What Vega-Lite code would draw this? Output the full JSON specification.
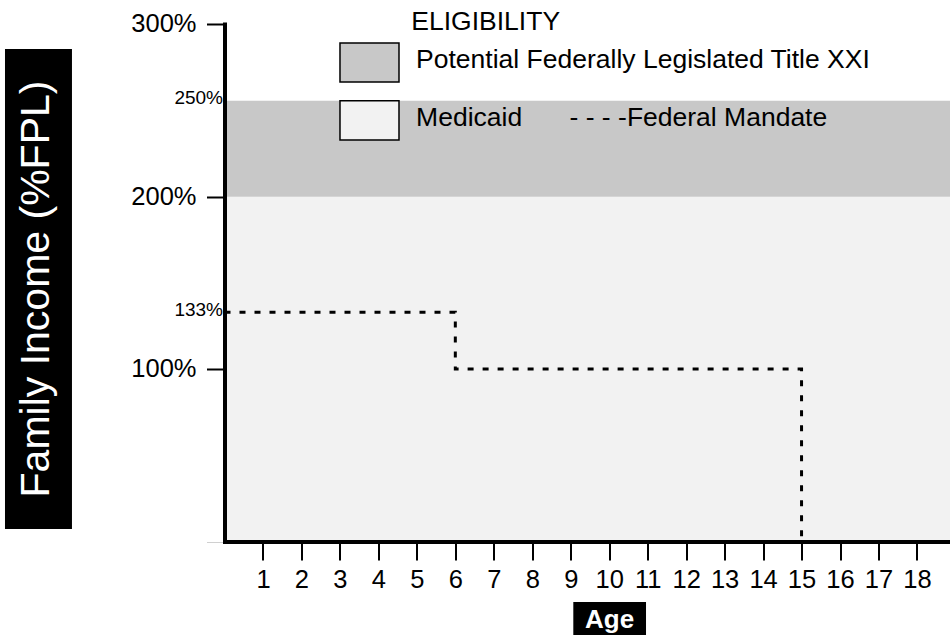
{
  "$schema": "https://vega.github.io/schema/vega-lite/v6.json",
  "width": 725.5,
  "height": 517.5,
  "autosize": {"type": "none"},
  "padding": {"left": 224.5, "top": 24, "right": 0, "bottom": 93.5},
  "background": "white",
  "config": {"view": {"stroke": null}, "font": "Liberation Sans"},
  "datasets": {
    "bands": [
      {"program": "Medicaid", "age_start": 0, "age_end": 19, "fpl_low": 0, "fpl_high": 200},
      {"program": "Potential Federally Legislated Title XXI", "age_start": 0, "age_end": 19, "fpl_low": 200, "fpl_high": 250}
    ],
    "mandate": [
      {"age": 0, "fpl": 133},
      {"age": 6, "fpl": 100},
      {"age": 15, "fpl": 0}
    ]
  },
  "layer": [
    {
      "data": {"name": "bands"},
      "mark": {"type": "rect"},
      "encoding": {
        "x": {
          "field": "age_start", "type": "quantitative", "title": null,
          "scale": {"domain": [0, 18.859], "nice": false, "zero": false},
          "axis": {
            "values": [1,2,3,4,5,6,7,8,9,10,11,12,13,14,15,16,17,18],
            "format": "d",
            "tickSize": 18.5, "tickWidth": 2, "tickColor": "black",
            "domainColor": "black", "domainWidth": 4, "domainCap": "square",
            "labelFontSize": 25.5, "labelColor": "black", "labelPadding": 7.5,
            "labelFlush": false, "labelOverlap": false, "grid": false, "zindex": 1, "title": null
          }
        },
        "x2": {"field": "age_end"},
        "y": {
          "field": "fpl_low", "type": "quantitative", "title": null,
          "scale": {"domain": [0, 200, 250, 300], "range": [517.5, 172.7, 76.7, 0], "nice": false, "zero": false},
          "axis": {
            "values": [0, 100, 133, 200, 250, 300],
            "labelExpr": "datum.value == 0 ? '' : datum.value + '%'",
            "tickSize": 18,
            "tickWidth": {"condition": {"test": "datum.value == 0", "value": 1}, "value": 2},
            "tickColor": {"condition": {"test": "datum.value == 0", "value": "#d0d0d0"}, "value": "black"},
            "tickOpacity": {"condition": {"test": "datum.value == 133 || datum.value == 250", "value": 0}, "value": 1},
            "labelFontSize": {"condition": {"test": "datum.value == 133 || datum.value == 250", "value": 19}, "value": 25.5},
            "labelPadding": {"condition": {"test": "datum.value == 133 || datum.value == 250", "value": -16}, "value": 10.5},
            "labelOffset": {"condition": {"test": "datum.value == 133 || datum.value == 250", "value": -3}, "value": -0.5},
            "domainColor": "black", "domainWidth": 4, "domainCap": "square",
            "labelColor": "black", "labelOverlap": false, "labelFlush": false, "grid": false, "zindex": 1, "title": null
          }
        },
        "y2": {"field": "fpl_high"},
        "color": {
          "field": "program", "type": "nominal", "legend": null,
          "scale": {"domain": ["Potential Federally Legislated Title XXI", "Medicaid"], "range": ["#c8c8c8", "#f2f2f2"]}
        }
      }
    },
    {
      "data": {"name": "mandate"},
      "mark": {"type": "line", "interpolate": "step-after", "strokeDash": [6, 9], "strokeWidth": 3, "color": "black"},
      "encoding": {
        "x": {"field": "age", "type": "quantitative", "title": null},
        "y": {"field": "fpl", "type": "quantitative", "title": null},
        "order": {"field": "age"}
      }
    },
    {
      "data": {"values": [{"item": "y title box"}]},
      "mark": {"type": "rect", "color": "black"},
      "encoding": {
        "x": {"datum": -5.706, "type": "quantitative", "title": null},
        "x2": {"datum": -3.965},
        "y": {"datum": 283.7, "type": "quantitative", "title": null},
        "y2": {"datum": 7.25}
      }
    },
    {
      "data": {"values": [{"label": "Family Income (%FPL)"}]},
      "mark": {"type": "text", "color": "white", "fontSize": 41, "angle": 270, "align": "center", "baseline": "middle"},
      "encoding": {
        "x": {"datum": -4.874, "type": "quantitative", "title": null},
        "y": {"datum": 146.46, "type": "quantitative", "title": null},
        "text": {"field": "label"}
      }
    },
    {
      "data": {"values": [{"item": "x title box"}]},
      "mark": {"type": "rect", "color": "black"},
      "encoding": {
        "x": {"datum": 9.067, "type": "quantitative", "title": null},
        "x2": {"datum": 10.957},
        "y": {"datum": -35.09, "type": "quantitative", "title": null},
        "y2": {"datum": -57.13}
      }
    },
    {
      "data": {"values": [{"label": "Age"}]},
      "mark": {"type": "text", "color": "white", "fontSize": 26, "fontWeight": "bold", "align": "center", "baseline": "alphabetic"},
      "encoding": {
        "x": {"datum": 10.012, "type": "quantitative", "title": null},
        "y": {"datum": -50.35, "type": "quantitative", "title": null},
        "text": {"field": "label"}
      }
    },
    {
      "data": {"values": [{"label": "ELIGIBILITY"}]},
      "mark": {"type": "text", "color": "black", "fontSize": 26.5, "align": "left", "baseline": "alphabetic"},
      "encoding": {
        "x": {"datum": 4.856, "type": "quantitative", "title": null},
        "y": {"datum": 296.09, "type": "quantitative", "title": null},
        "text": {"field": "label"}
      }
    },
    {
      "data": {"values": [{"program": "Potential Federally Legislated Title XXI"}]},
      "mark": {"type": "rect", "stroke": "black", "strokeWidth": 1.5},
      "encoding": {
        "x": {"datum": 3.002, "type": "quantitative", "title": null},
        "x2": {"datum": 4.536},
        "y": {"datum": 287.61, "type": "quantitative", "title": null},
        "y2": {"datum": 262.19},
        "color": {"field": "program", "type": "nominal", "legend": null}
      }
    },
    {
      "data": {"values": [{"program": "Medicaid"}]},
      "mark": {"type": "rect", "stroke": "black", "strokeWidth": 1.5},
      "encoding": {
        "x": {"datum": 3.002, "type": "quantitative", "title": null},
        "x2": {"datum": 4.536},
        "y": {"datum": 250, "type": "quantitative", "title": null},
        "y2": {"datum": 229.53},
        "color": {"field": "program", "type": "nominal", "legend": null}
      }
    },
    {
      "data": {"values": [{"label": "Potential Federally Legislated Title XXI"}]},
      "mark": {"type": "text", "color": "black", "fontSize": 26.5, "align": "left", "baseline": "alphabetic"},
      "encoding": {
        "x": {"datum": 4.98, "type": "quantitative", "title": null},
        "y": {"datum": 271.12, "type": "quantitative", "title": null},
        "text": {"field": "label"}
      }
    },
    {
      "data": {"values": [{"label": "Medicaid"}]},
      "mark": {"type": "text", "color": "black", "fontSize": 26.5, "align": "left", "baseline": "alphabetic"},
      "encoding": {
        "x": {"datum": 4.98, "type": "quantitative", "title": null},
        "y": {"datum": 237, "type": "quantitative", "title": null},
        "text": {"field": "label"}
      }
    },
    {
      "data": {"values": [{"label": "- - - -Federal Mandate"}]},
      "mark": {"type": "text", "color": "black", "fontSize": 26.5, "align": "left", "baseline": "alphabetic"},
      "encoding": {
        "x": {"datum": 8.968, "type": "quantitative", "title": null},
        "y": {"datum": 237, "type": "quantitative", "title": null},
        "text": {"field": "label"}
      }
    }
  ]
}
